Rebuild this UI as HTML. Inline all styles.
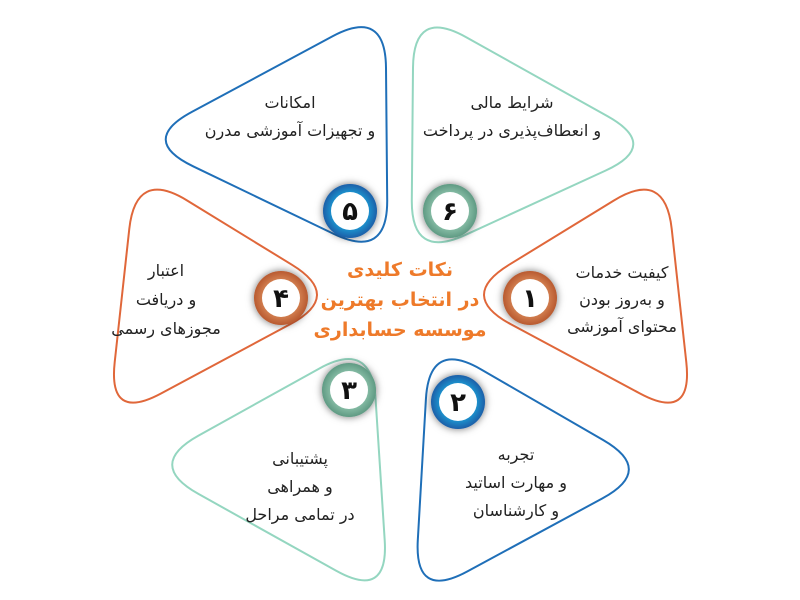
<!DOCTYPE html>
<html><head><meta charset="utf-8">
<style>
html,body{margin:0;padding:0;background:#fff;width:800px;height:600px;overflow:hidden}
svg{display:block}
text{font-family:"DejaVu Sans","Liberation Sans",sans-serif;}
</style></head><body>
<svg id="s" width="800" height="600" viewBox="0 0 800 600" xmlns="http://www.w3.org/2000/svg">
<defs>
<filter id="sh" x="-50%" y="-50%" width="200%" height="200%"><feDropShadow dx="0" dy="0" stdDeviation="4" flood-color="#000" flood-opacity="0.55"/></filter>
<radialGradient id="gb"><stop offset="0.6" stop-color="#1aa0d8"/><stop offset="1" stop-color="#1b5fa8"/></radialGradient>
<radialGradient id="gg"><stop offset="0.6" stop-color="#8fc4ad"/><stop offset="1" stop-color="#5f9a83"/></radialGradient>
<radialGradient id="go"><stop offset="0.6" stop-color="#d98858"/><stop offset="1" stop-color="#b85a30"/></radialGradient>
</defs>
<g id="petals" fill="none" stroke-width="2"></g>
<g font-size="16" fill="#222" text-anchor="middle" direction="rtl">
<text x="290" y="108">امکانات</text>
<text x="290" y="136">و تجهیزات آموزشی مدرن</text>
<text x="512" y="108">شرایط مالی</text>
<text x="512" y="136">و انعطاف‌پذیری در پرداخت</text>
<text x="622" y="278">کیفیت خدمات</text>
<text x="622" y="305">و به‌روز بودن</text>
<text x="622" y="332">محتوای آموزشی</text>
<text x="166" y="276">اعتبار</text>
<text x="166" y="305">و دریافت</text>
<text x="166" y="334">مجوزهای رسمی</text>
<text x="300" y="464">پشتیبانی</text>
<text x="300" y="492">و همراهی</text>
<text x="300" y="520">در تمامی مراحل</text>
<text x="516" y="460">تجربه</text>
<text x="516" y="488">و مهارت اساتید</text>
<text x="516" y="516">و کارشناسان</text>
</g>
<g font-size="19" font-weight="bold" fill="#ee7a2a" text-anchor="middle" direction="rtl">
<text x="400" y="276">نکات کلیدی</text>
<text x="400" y="306">در انتخاب بهترین</text>
<text x="400" y="336">موسسه حسابداری</text>
</g>
<g id="circ"></g>
</svg>
<script>
function rt(pts,r,color,ox){
  ox=ox||0;
  const cx=(pts[0][0]+pts[1][0]+pts[2][0])/3, cy=(pts[0][1]+pts[1][1]+pts[2][1])/3;
  pts=pts.map(p=>{const dx=p[0]-cx,dy=p[1]-cy,l=Math.hypot(dx,dy);return [p[0]+dx/l*12+ox,p[1]+dy/l*12];});
  let d='';
  const n=pts.length;
  for(let i=0;i<n;i++){
    const p=pts[i],a=pts[(i+n-1)%n],b=pts[(i+1)%n];
    const u=(q)=>{const dx=q[0]-p[0],dy=q[1]-p[1],l=Math.hypot(dx,dy);return [p[0]+dx/l*r,p[1]+dy/l*r];};
    const s=u(a),e=u(b);
    d+=(i==0?'M':'L')+s[0].toFixed(1)+' '+s[1].toFixed(1)+' Q'+p[0].toFixed(1)+' '+p[1].toFixed(1)+' '+e[0].toFixed(1)+' '+e[1].toFixed(1)+' ';
  }
  d+='Z';
  const path=document.createElementNS('http://www.w3.org/2000/svg','path');
  path.setAttribute('d',d);path.setAttribute('stroke',color);
  document.getElementById('petals').appendChild(path);
}
const G='#94d6c0',B='#1f6fb8',O='#e0673a';
const R=60;
rt([[412,18],[640,145],[410,250]],R,G,8);
rt([[388,18],[160,140],[390,250]],R,B,-9);
rt([[668,180],[694,412],[478,296]],R,O,-8);
rt([[132,180],[106,412],[322,296]],R,O,9);
rt([[432,350],[640,470],[418,590]],R,B,3);
rt([[368,350],[160,465],[384,590]],R,G,-2);
const cs=[[350,211,'gb','۵'],[450,211,'gg','۶'],[530,298,'go','۱'],[281,298,'go','۴'],[349,390,'gg','۳'],[458,402,'gb','۲']];
let h='';
cs.forEach(c=>{
 h+=`<circle cx="${c[0]}" cy="${c[1]}" r="27" fill="url(#${c[2]})" filter="url(#sh)"/><circle cx="${c[0]}" cy="${c[1]}" r="19" fill="#fff"/><text x="${c[0]}" y="${c[1]+9}" text-anchor="middle" font-size="26" font-weight="bold" fill="#111" font-family="DejaVu Sans, sans-serif">${c[3]}</text>`;
});
document.getElementById('circ').innerHTML=h;
</script>
</body></html>
